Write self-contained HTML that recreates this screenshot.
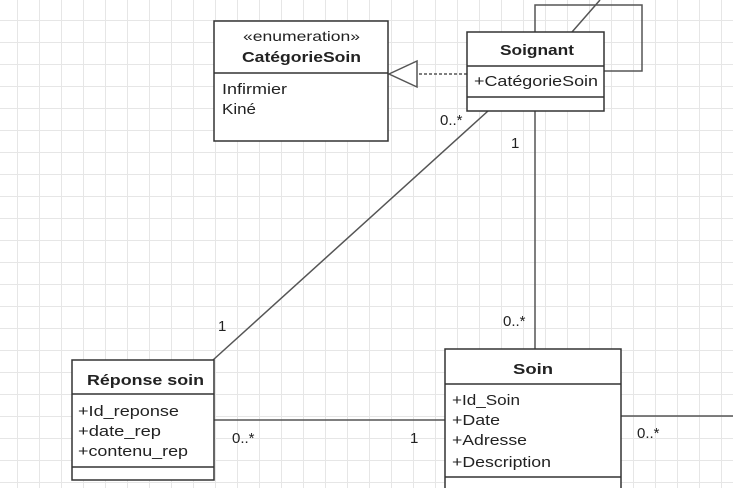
<!DOCTYPE html>
<html><head><meta charset="utf-8"><style>
body{margin:0;width:733px;height:488px;overflow:hidden;background:#fff;
background-image:linear-gradient(to right,#e6e6e6 1px,transparent 1px),linear-gradient(to bottom,#e6e6e6 1px,transparent 1px);
background-size:22px 22px;background-position:17px 20px;font-family:"Liberation Sans",sans-serif;}
</style></head><body>
<svg width="733" height="488" style="position:absolute;left:0;top:0" font-family="Liberation Sans, sans-serif" font-size="15" fill="#222">
<g stroke="#555" stroke-width="1.5" fill="none">
<rect x="535" y="5" width="107" height="66"/>
<line x1="600" y1="0" x2="572" y2="32"/>
<line x1="488" y1="111" x2="213" y2="360"/>
<line x1="535" y1="111" x2="535" y2="349"/>
<line x1="214" y1="420" x2="445" y2="420"/>
<line x1="621" y1="416" x2="733" y2="416"/>
<line x1="467" y1="74" x2="418" y2="74" stroke-dasharray="3,2"/>
<polygon points="389,74 417,61 417,87" fill="#fff"/>
</g>
<g stroke="#333" stroke-width="1.5" fill="#fff">
<rect x="214" y="21" width="174" height="120"/>
<line x1="214" y1="73" x2="388" y2="73"/>
<rect x="467" y="32" width="137" height="79"/>
<line x1="467" y1="66" x2="604" y2="66"/>
<line x1="467" y1="97" x2="604" y2="97"/>
<rect x="72" y="360" width="142" height="120"/>
<line x1="72" y1="394" x2="214" y2="394"/>
<line x1="72" y1="467" x2="214" y2="467"/>
<rect x="445" y="349" width="176" height="145"/>
<line x1="445" y1="384" x2="621" y2="384"/>
<line x1="445" y1="477" x2="621" y2="477"/>
</g>
<g lengthAdjust="spacingAndGlyphs">
<text x="243" y="41" font-size="14" textLength="117" lengthAdjust="spacingAndGlyphs">«enumeration»</text>
<text x="242" y="62" font-weight="bold" textLength="119" lengthAdjust="spacingAndGlyphs">CatégorieSoin</text>
<text x="222" y="94" textLength="65" lengthAdjust="spacingAndGlyphs">Infirmier</text>
<text x="222" y="114" textLength="34" lengthAdjust="spacingAndGlyphs">Kiné</text>
<text x="500" y="55" font-weight="bold" textLength="74" lengthAdjust="spacingAndGlyphs">Soignant</text>
<text x="474" y="86" textLength="124" lengthAdjust="spacingAndGlyphs">+CatégorieSoin</text>
<text x="87" y="385" font-weight="bold" textLength="117" lengthAdjust="spacingAndGlyphs">Réponse soin</text>
<text x="78" y="416" textLength="101" lengthAdjust="spacingAndGlyphs">+Id_reponse</text>
<text x="78" y="436" textLength="83" lengthAdjust="spacingAndGlyphs">+date_rep</text>
<text x="78" y="456" textLength="110" lengthAdjust="spacingAndGlyphs">+contenu_rep</text>
<text x="513" y="374" font-weight="bold" textLength="40" lengthAdjust="spacingAndGlyphs">Soin</text>
<text x="452" y="405" textLength="68" lengthAdjust="spacingAndGlyphs">+Id_Soin</text>
<text x="452" y="425" textLength="48" lengthAdjust="spacingAndGlyphs">+Date</text>
<text x="452" y="445" textLength="75" lengthAdjust="spacingAndGlyphs">+Adresse</text>
<text x="452" y="467" textLength="99" lengthAdjust="spacingAndGlyphs">+Description</text>
<text x="440" y="125">0..*</text>
<text x="218" y="331">1</text>
<text x="511" y="148">1</text>
<text x="503" y="326">0..*</text>
<text x="232" y="443">0..*</text>
<text x="410" y="443">1</text>
<text x="637" y="438">0..*</text>
</g>
</svg>
</body></html>
